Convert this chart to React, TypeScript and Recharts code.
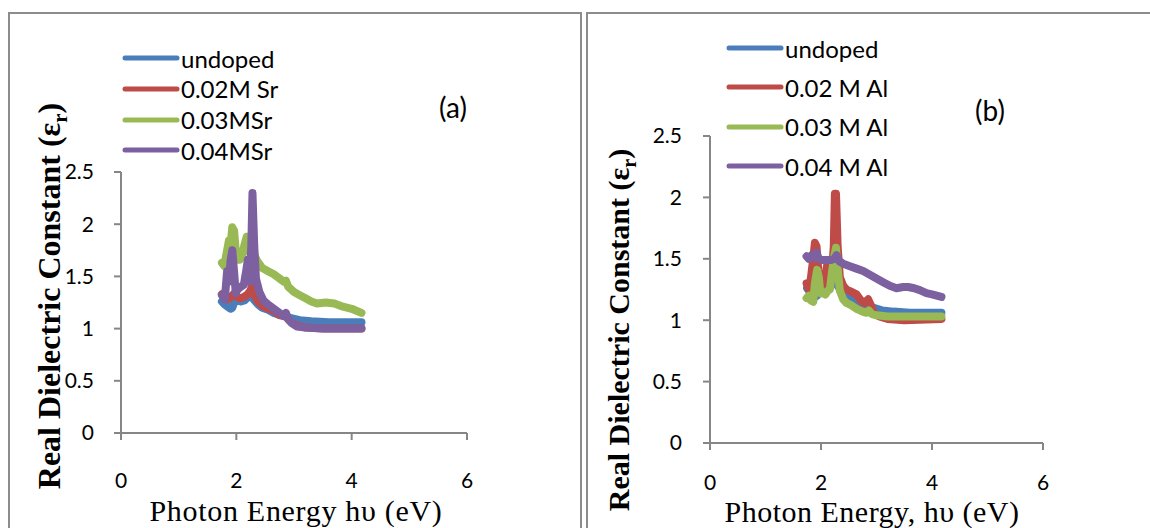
import React from 'react';
import { LineChart, Line, XAxis, YAxis } from 'recharts';

// panel (a): Sr doped
const aUndopedX = [1.75, 1.8, 1.85, 1.9, 1.93, 1.97, 2.02, 2.08, 2.14, 2.2, 2.25, 2.3, 2.38, 2.45, 2.55, 2.65, 2.75, 2.85, 2.95, 3.1, 3.3, 3.6, 3.9, 4.17];
const aUndopedY = [1.26, 1.23, 1.21, 1.19, 1.2, 1.26, 1.27, 1.26, 1.27, 1.3, 1.33, 1.28, 1.23, 1.2, 1.18, 1.15, 1.13, 1.12, 1.1, 1.08, 1.07, 1.06, 1.06, 1.06];

const aSr02X = [1.75, 1.8, 1.85, 1.9, 1.95, 2.0, 2.06, 2.12, 2.18, 2.24, 2.27, 2.3, 2.36, 2.45, 2.55, 2.65, 2.75, 2.85, 2.95, 3.05, 3.2, 3.5, 4.17];
const aSr02Y = [1.33, 1.3, 1.28, 1.3, 1.33, 1.31, 1.29, 1.3, 1.32, 1.36, 1.4, 1.34, 1.27, 1.22, 1.19, 1.17, 1.13, 1.12, 1.06, 1.03, 1.01, 1.0, 1.0];

const aSr03X = [1.75, 1.79, 1.83, 1.87, 1.9, 1.93, 1.96, 1.99, 2.02, 2.06, 2.1, 2.14, 2.18, 2.22, 2.26, 2.3, 2.36, 2.45, 2.55, 2.65, 2.75, 2.82, 2.86, 2.9, 3.0, 3.1, 3.2, 3.3, 3.4, 3.55, 3.7, 3.85, 4.0, 4.17];
const aSr03Y = [1.63, 1.6, 1.72, 1.84, 1.8, 1.97, 1.94, 1.75, 1.66, 1.66, 1.7, 1.8, 1.88, 1.74, 1.76, 1.72, 1.65, 1.58, 1.55, 1.52, 1.48, 1.45, 1.46, 1.4, 1.35, 1.32, 1.29, 1.26, 1.24, 1.25, 1.24, 1.21, 1.19, 1.15];

const aSr04X = [1.75, 1.8, 1.84, 1.87, 1.9, 1.93, 1.96, 1.99, 2.03, 2.08, 2.13, 2.17, 2.2, 2.23, 2.26, 2.28, 2.31, 2.34, 2.4, 2.47, 2.55, 2.65, 2.75, 2.82, 2.86, 2.9, 2.97, 3.05, 3.2, 3.5, 4.17];
const aSr04Y = [1.32, 1.28, 1.55, 1.45, 1.65, 1.75, 1.55, 1.34, 1.38, 1.4, 1.42, 1.55, 1.66, 1.45, 1.8, 2.3, 1.8, 1.48, 1.35, 1.27, 1.23, 1.19, 1.15, 1.12, 1.15, 1.09, 1.05, 1.02, 1.01, 1.0, 1.0];

// panel (b): Al doped
const bUndopedX = aUndopedX;
const bUndopedY = aUndopedY;

const bAl02X = [1.74, 1.78, 1.82, 1.86, 1.89, 1.92, 1.95, 1.99, 2.02, 2.06, 2.1, 2.13, 2.17, 2.2, 2.23, 2.25, 2.27, 2.3, 2.34, 2.4, 2.46, 2.55, 2.64, 2.72, 2.78, 2.85, 2.9, 2.95, 3.05, 3.2, 3.5, 4.17];
const bAl02Y = [1.3, 1.25, 1.35, 1.5, 1.63, 1.6, 1.41, 1.25, 1.22, 1.3, 1.42, 1.49, 1.45, 1.41, 1.6, 2.03, 2.03, 1.6, 1.35, 1.28, 1.25, 1.23, 1.21, 1.16, 1.14, 1.17, 1.12, 1.06, 1.03, 1.01, 1.0, 1.01];

const bAl03X = [1.74, 1.78, 1.82, 1.86, 1.89, 1.93, 1.96, 1.99, 2.03, 2.08, 2.12, 2.16, 2.2, 2.24, 2.27, 2.3, 2.34, 2.4, 2.46, 2.55, 2.65, 2.75, 2.82, 2.86, 2.92, 3.0, 3.2, 3.6, 4.17];
const bAl03Y = [1.18, 1.2, 1.16, 1.15, 1.3, 1.41, 1.35, 1.22, 1.23, 1.21, 1.24, 1.25, 1.4, 1.52, 1.59, 1.42, 1.24, 1.17, 1.14, 1.12, 1.09, 1.07, 1.06, 1.08, 1.05, 1.04, 1.03, 1.03, 1.03];

const bAl04X = [1.74, 1.78, 1.83, 1.88, 1.92, 1.96, 2.02, 2.1, 2.18, 2.24, 2.28, 2.33, 2.4, 2.52, 2.64, 2.76, 2.88, 3.0, 3.12, 3.24, 3.36, 3.48, 3.57, 3.68, 3.78, 3.9, 4.0, 4.17];
const bAl04Y = [1.52, 1.5, 1.53, 1.51, 1.55, 1.5, 1.49, 1.49, 1.49, 1.5, 1.53, 1.48, 1.46, 1.44, 1.42, 1.4, 1.37, 1.34, 1.31, 1.28, 1.26, 1.27, 1.27, 1.26, 1.245, 1.22, 1.21, 1.19];

const xTicks = [0, 2, 4, 6];
const yTicks = [0, 0.5, 1, 1.5, 2, 2.5];

const seriesColors = ['#4A7EBB', '#BE4B48', '#98B954', '#7D60A0'];
const legendA = ['undoped', '0.02M Sr', '0.03MSr', '0.04MSr'];
const legendB = ['undoped', '0.02 M Al', '0.03 M Al', '0.04 M Al'];

const toPoints = (xs: number[], ys: number[]) => xs.map((x, i) => ({ x, y: ys[i] }));

const AXIS = '#868686';
const TICK_FONT = { fontFamily: 'Lato, sans-serif', fontSize: 21, fill: '#000' };

function Panel({ series, left, width, margin, xTickMargin, yTickMargin }: any) {
    return (
        <div style={{ position: 'absolute', left, top: 0 }}>
            <LineChart width={width} height={528} margin={margin}>
                <XAxis
                    dataKey="x"
                    type="number"
                    domain={[0, 6]}
                    ticks={xTicks}
                    height={60}
                    stroke={AXIS}
                    strokeWidth={2}
                    tickSize={7}
                    tickMargin={xTickMargin}
                    tick={TICK_FONT}
                />
                <YAxis
                    dataKey="y"
                    type="number"
                    domain={[0, 2.5]}
                    ticks={yTicks}
                    width={60}
                    stroke={AXIS}
                    strokeWidth={2}
                    tickSize={7}
                    tickMargin={yTickMargin}
                    tick={TICK_FONT}
                />
                {series.map((s: any, i: number) => (
                    <Line
                        key={i}
                        data={s}
                        dataKey="y"
                        type="linear"
                        stroke={seriesColors[i]}
                        strokeWidth={8}
                        strokeLinecap="round"
                        strokeLinejoin="round"
                        dot={false}
                        activeDot={false}
                        isAnimationActive={false}
                    />
                ))}
            </LineChart>
        </div>
    );
}

function LegendBox({ names, left, top, gap }: { names: string[]; left: number; top: number; gap: number }) {
    return (
        <div style={{ position: 'absolute', left, top }}>
            {names.map((n, i) => (
                <div key={n} style={{ position: 'absolute', top: i * gap - 15, left: 0, height: 30, display: 'flex', alignItems: 'center', whiteSpace: 'nowrap' }}>
                    <svg width={58} height={10}>
                        <line x1={3} y1={5} x2={55} y2={5} stroke={seriesColors[i]} strokeWidth={5} strokeLinecap="round" />
                    </svg>
                    <span style={{ fontFamily: 'Lato, sans-serif', fontSize: 24, marginLeft: 1, color: '#000' }}>{n}</span>
                </div>
            ))}
        </div>
    );
}

export default function App() {
    const panelA = [
        toPoints(aUndopedX, aUndopedY),
        toPoints(aSr02X, aSr02Y),
        toPoints(aSr03X, aSr03Y),
        toPoints(aSr04X, aSr04Y),
    ];
    const panelB = [
        toPoints(bUndopedX, bUndopedY),
        toPoints(bAl02X, bAl02Y),
        toPoints(bAl03X, bAl03Y),
        toPoints(bAl04X, bAl04Y),
    ];

    const serif = 'Liberation Serif, Times New Roman, serif';

    return (
        <div style={{ position: 'absolute', left: 0, top: 0, width: 1150, height: 528, overflow: 'hidden', background: '#fff' }}>
            {/* panel frames */}
            <div style={{ position: 'absolute', left: 8, top: 12, width: 570, height: 600, border: '2px solid #8c8c8c' }} />
            <div style={{ position: 'absolute', left: 586, top: 12, width: 600, height: 600, border: '2px solid #8c8c8c' }} />

            <Panel
                series={panelA}
                left={0}
                width={580}
                margin={{ top: 172, right: 113, bottom: 35, left: 61 }}
                xTickMargin={33}
                yTickMargin={20}
            />
            <Panel
                series={panelB}
                left={580}
                width={570}
                margin={{ top: 136, right: 107, bottom: 25, left: 70 }}
                xTickMargin={25}
                yTickMargin={21}
            />

            <LegendBox names={legendA} left={122} top={58} gap={30.8} />
            <LegendBox names={legendB} left={726} top={48} gap={39.4} />

            <svg width={1150} height={528} style={{ position: 'absolute', left: 0, top: 0, pointerEvents: 'none' }}>
                <text x={453} y={107} textAnchor="middle" dominantBaseline="central" fontFamily="Lato, sans-serif" fontSize={28}>(a)</text>
                <text x={990} y={110} textAnchor="middle" dominantBaseline="central" fontFamily="Lato, sans-serif" fontSize={28}>(b)</text>

                <text x={60} y={296} transform="rotate(-90 60 296)" textAnchor="middle" fontFamily={serif} fontWeight="bold" fontSize={32}>
                    Real Dielectric Constant (ε<tspan fontSize={21} dy={7}>r</tspan><tspan dy={-7}>)</tspan>
                </text>
                <text x={629} y={330} transform="rotate(-90 629 330)" textAnchor="middle" fontFamily={serif} fontWeight="bold" fontSize={30}>
                    Real Dielectric Constant (ε<tspan fontSize={20} dy={7}>r</tspan><tspan dy={-7}>)</tspan>
                </text>

                <text x={296} y={521} textAnchor="middle" fontFamily={serif} fontSize={30} letterSpacing={0.7}>Photon Energy hυ (eV)</text>
                <text x={872} y={521.5} textAnchor="middle" fontFamily={serif} fontSize={30} letterSpacing={0.5}>Photon Energy, hυ (eV)</text>
            </svg>
        </div>
    );
}
